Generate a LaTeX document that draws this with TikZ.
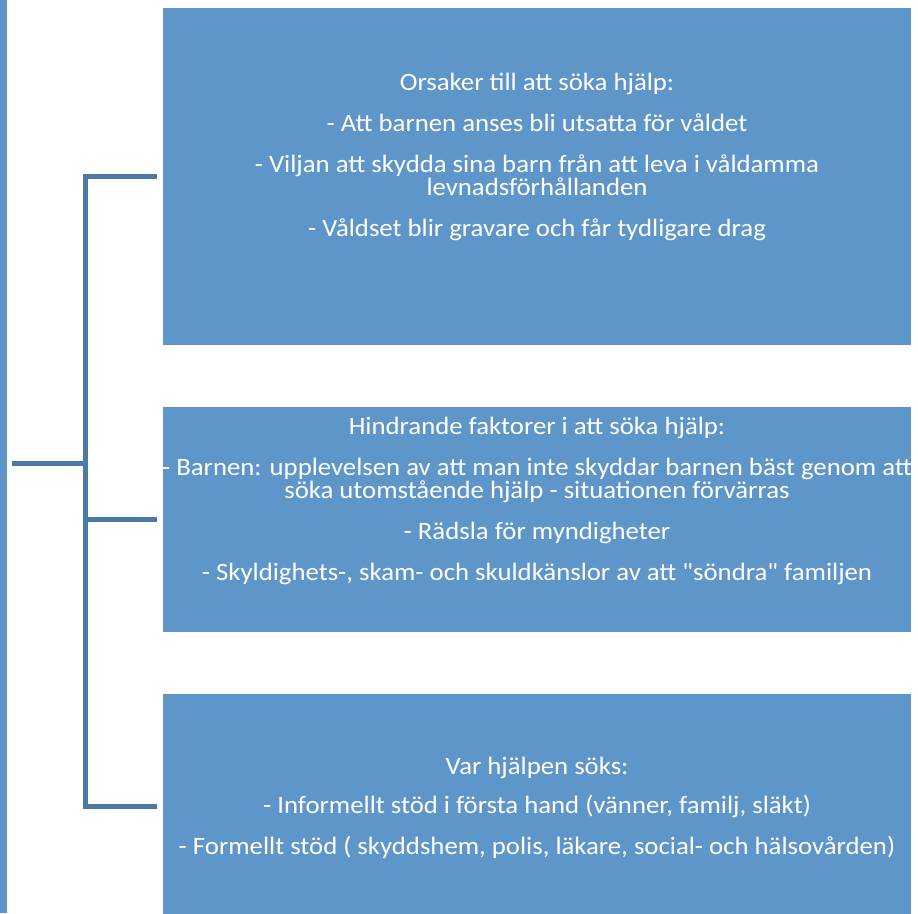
\documentclass[tikz,border=0pt]{standalone}
\usepackage{fontspec}
\newfontfamily\boxfont{Carlito}[FakeStretch=1.07]
\definecolor{boxblue}{HTML}{5F96C9}
\definecolor{linkblue}{HTML}{4D79A8}
\begin{document}
\begin{tikzpicture}[x=1pt,y=-1pt,
  boxstyle/.style={fill=boxblue, draw=none, inner sep=0pt, anchor=north west},
  txt/.style={text=white, align=center, font=\boxfont\fontsize{25}{23}\selectfont, inner sep=0pt},
  link/.style={draw=linkblue, line width=5pt}]
\path[use as bounding box, clip] (0,0) rectangle (918,913);
\fill[boxblue] (0,0) rectangle (7,913);
\node[boxstyle, minimum width=748pt, minimum height=337pt] (b1) at (163,8) {};
\node[boxstyle, minimum width=748pt, minimum height=225pt] (b2) at (163,407) {};
\node[boxstyle, minimum width=748pt, minimum height=224pt] (b3) at (163,694) {};
\node[txt] (t1) at (537,157) {Orsaker till att söka hjälp:\\[18pt]
- Att barnen anses bli utsatta för våldet\\[18pt]
- Viljan att skydda sina barn från att leva i våldamma\\ levnadsförhållanden\\[18pt]
- Våldset blir gravare och får tydligare drag};
\node[txt] (t2) at (537,501) {Hindrande faktorer i att söka hjälp:\\[18pt]
- Barnen: upplevelsen av att man inte skyddar barnen bäst genom att\\ söka utomstående hjälp - situationen förvärras\\[18pt]
- Rädsla för myndigheter\\[18pt]
- Skyldighets-, skam- och skuldkänslor av att "söndra" familjen};
\node[txt] (t3) at (537,808) {Var hjälpen söks:\\[16pt]
- Informellt stöd i första hand (vänner, familj, släkt)\\[18pt]
- Formellt stöd ( skyddshem, polis, läkare, social- och hälsovården)};
\coordinate (root) at (12,463);
\coordinate (j) at (85,463);
\coordinate (e1) at ([xshift=-6pt]b1.west);
\coordinate (e2) at ([xshift=-6pt]b2.west);
\coordinate (e3) at ([xshift=-6pt]b3.west);
\draw[link] (root) -- (j);
\draw[link] (e1) -- (j |- e1) -- (j |- e3) -- (e3);
\draw[link] (j |- e2) -- (e2);
\end{tikzpicture}
\end{document}
